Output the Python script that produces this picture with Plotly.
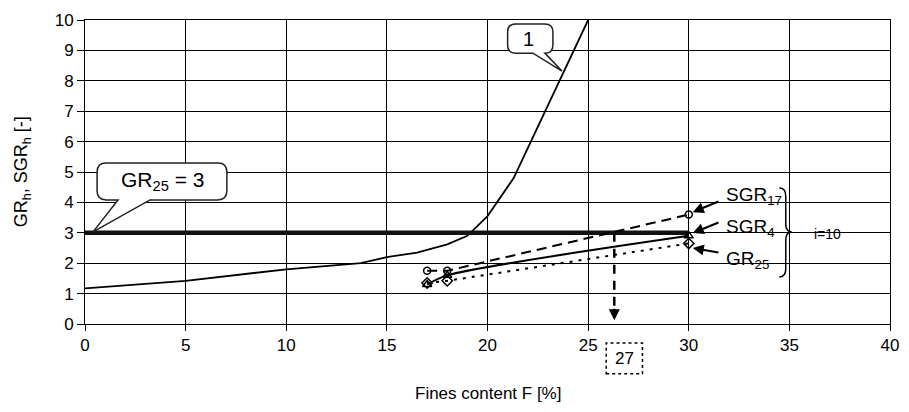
import plotly.graph_objects as go

# Curve 1 (critical hydraulic gradient curve)
F_curve1 = [0, 5, 10, 13.7, 15, 16.5, 18, 19, 20, 21.3, 25]
GR_curve1 = [1.17, 1.42, 1.8, 2.0, 2.2, 2.35, 2.62, 2.9, 3.55, 4.8, 10]

# Criterion line GR25 = 3
F_crit = [0, 30]
GR_crit = [3, 3]

# Test series
F_tests = [17, 18, 30]
SGR17 = [1.75, 1.75, 3.6]
SGR4 = [1.3, 1.6, 2.9]
GR25 = [1.35, 1.42, 2.65]

# Vertical read-off arrow
F_read = [26.3, 26.3]
GR_read = [3, 0.45]

x_ticks = [0, 5, 10, 15, 20, 25, 30, 35, 40]
y_ticks = list(range(0, 11))

FONT = "Liberation Sans, Arial, sans-serif"

fig = go.Figure()
fig.add_trace(go.Scatter(x=F_curve1, y=GR_curve1, mode="lines",
                         line=dict(color="black", width=1.8), showlegend=False))
fig.add_trace(go.Scatter(x=F_crit, y=GR_crit, mode="lines",
                         line=dict(color="#111", width=4.5), showlegend=False))
fig.add_trace(go.Scatter(x=F_tests, y=SGR17, mode="lines+markers",
                         line=dict(color="black", width=2, dash="10px,6px"),
                         marker=dict(symbol="circle-open", size=7, color="black", line=dict(width=1.5)),
                         showlegend=False))
fig.add_trace(go.Scatter(x=F_tests, y=SGR4, mode="lines+markers",
                         line=dict(color="black", width=2, shape="spline", smoothing=0.8),
                         marker=dict(symbol="triangle-up-open", size=8, color="black", line=dict(width=1.5)),
                         showlegend=False))
fig.add_trace(go.Scatter(x=F_tests, y=GR25, mode="lines+markers",
                         line=dict(color="black", width=2, dash="3px,6px"),
                         marker=dict(symbol="diamond-open", size=8, color="black", line=dict(width=1.5)),
                         showlegend=False))
fig.add_trace(go.Scatter(x=F_read, y=GR_read, mode="lines",
                         line=dict(color="black", width=2.5, dash="9px,7px"), showlegend=False))


def bubble(x0, x1, y0, y1, rx, ry, t1, t2, tipx, tipy):
    return (f"M {x0+rx},{y1} L {x1-rx},{y1} Q {x1},{y1} {x1},{y1-ry} "
            f"L {x1},{y0+ry} Q {x1},{y0} {x1-rx},{y0} L {t2},{y0} L {tipx},{tipy} "
            f"L {t1},{y0} L {x0+rx},{y0} Q {x0},{y0} {x0},{y0+ry} "
            f"L {x0},{y1-ry} Q {x0},{y1} {x0+rx},{y1} Z")


shapes = [
    dict(type="path", xref="x", yref="y", layer="above",
         path=bubble(21.0, 23.25, 8.91, 9.87, 0.4, 0.26, 22.26, 22.85, 23.7, 8.32),
         line=dict(color="#222", width=1.5), fillcolor="white"),
    dict(type="path", xref="x", yref="y", layer="above",
         path=bubble(0.6, 7.05, 4.08, 5.3, 0.45, 0.3, 1.64, 3.23, 0.4, 3.03),
         line=dict(color="#222", width=1.5), fillcolor="white"),
    # brace
    dict(type="path", xref="x", yref="y", layer="above",
         path=("M 34.5,4.47 Q 34.82,4.47 34.82,4.2 L 34.82,3.3 Q 34.82,3.03 35.12,3.03 "
               "Q 34.82,3.03 34.82,2.76 L 34.82,1.82 Q 34.82,1.55 34.5,1.55"),
         line=dict(color="black", width=1.5)),
    # dotted box around 27
    dict(type="rect", xref="paper", yref="paper", x0=25.9 / 40, x1=27.7 / 40,
         y0=-0.164, y1=-0.0625, line=dict(color="black", width=1.5, dash="dot")),
]

def label(x, y, text, size, xref="x", yref="y", **kw):
    d = dict(x=x, y=y, xref=xref, yref=yref, text=text, showarrow=False,
             xanchor="center", yanchor="middle",
             font=dict(size=size, color="black", family=FONT))
    d.update(kw)
    return d


def arrow(x, y, ax, ay):
    return dict(x=x, y=y, ax=ax, ay=ay, xref="x", yref="y", axref="x", ayref="y", text="",
                showarrow=True, arrowhead=2, arrowsize=1.1, arrowwidth=2, arrowcolor="black")


annotations = [
    label(22.06, 9.38, "1", 20),
    label(3.83, 4.69, "GR<sub>25</sub> = 3", 21),
    arrow(30.2, 3.68, 31.55, 4.05),
    arrow(30.2, 2.99, 31.55, 3.36),
    arrow(30.2, 2.5, 31.55, 2.34),
    arrow(26.3, 0.12, 26.3, 0.55),
    label(31.75, 4.2, "SGR<sub>17</sub>", 19, xanchor="left"),
    label(31.75, 3.15, "SGR<sub>4</sub>", 19, xanchor="left"),
    label(31.75, 2.1, "GR<sub>25</sub>", 19, xanchor="left"),
    label(36.9, 2.96, "i=10", 14),
    label(26.8 / 40, -0.113, "27", 17, xref="paper", yref="paper"),
    # axis titles
    label(0.5, -0.227, "Fines content F [%]", 17, xref="paper", yref="paper"),
    label(-0.078, 0.5, "GR<sub>h</sub>, SGR<sub>h</sub> [-]", 18, xref="paper", yref="paper",
          textangle=-90),
]

fig.update_layout(
    width=901, height=404,
    margin=dict(l=77, r=19, t=12, b=88),
    paper_bgcolor="white", plot_bgcolor="white",
    font=dict(family=FONT, size=17, color="black"),
    shapes=shapes, annotations=annotations,
    xaxis=dict(range=[0, 40], tickvals=x_ticks, showgrid=True, gridcolor="black", gridwidth=1,
               zeroline=False, showline=True, linecolor="black", linewidth=1, mirror=True,
               ticks="outside", ticklen=6, tickcolor="black", automargin=False,
               tickfont=dict(size=17, color="black", family=FONT)),
    yaxis=dict(range=[0, 10], tickvals=y_ticks, showgrid=True, gridcolor="black", gridwidth=1,
               zeroline=False, showline=True, linecolor="black", linewidth=1, mirror=True,
               ticks="outside", ticklen=7, tickcolor="black", automargin=False,
               tickfont=dict(size=17, color="black", family=FONT)),
)

fig.write_html("out.html")
